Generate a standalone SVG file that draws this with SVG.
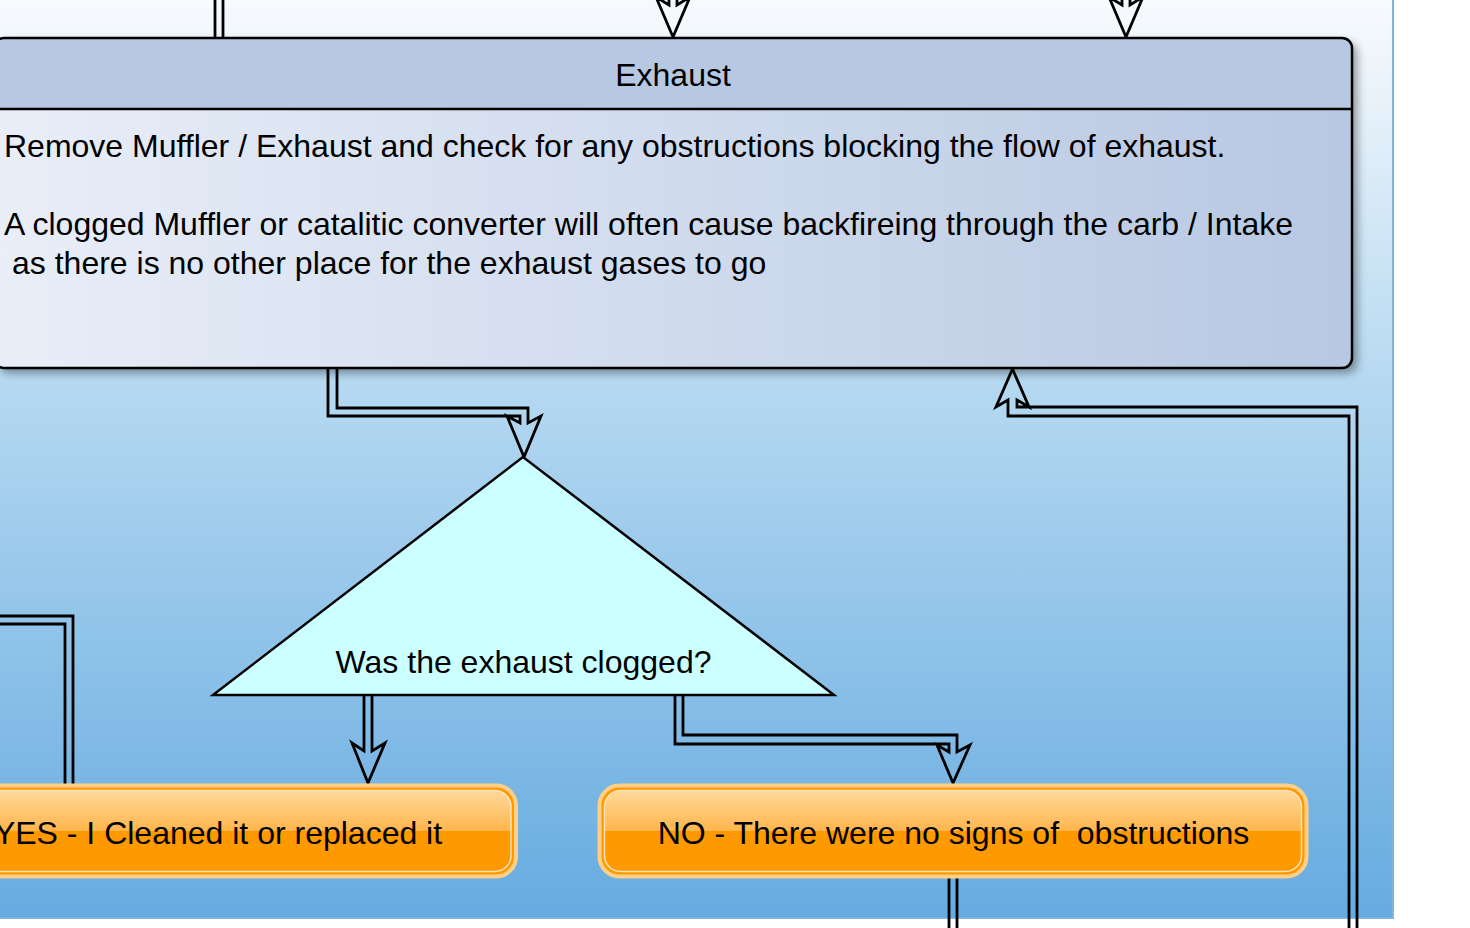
<svg xmlns="http://www.w3.org/2000/svg" width="1470" height="928" viewBox="0 0 1470 928">
<defs>
<linearGradient id="panelGrad" x1="0" y1="0" x2="0" y2="1">
<stop offset="0" stop-color="#f8fbfe"/>
<stop offset="0.08" stop-color="#eef5fb"/>
<stop offset="0.42" stop-color="#b6d9f1"/>
<stop offset="1" stop-color="#66abe0"/>
</linearGradient>
<linearGradient id="bodyGrad" x1="0" y1="0" x2="1" y2="0">
<stop offset="0" stop-color="#e9eef8"/>
<stop offset="1" stop-color="#b7c8e2"/>
</linearGradient>
<linearGradient id="btnGrad" x1="0" y1="0" x2="0" y2="1">
<stop offset="0" stop-color="#ffd99c"/>
<stop offset="0.5" stop-color="#ffb54c"/>
<stop offset="0.5" stop-color="#ff9900"/>
<stop offset="1" stop-color="#ff9900"/>
</linearGradient>
<filter id="shadow" x="-5%" y="-10%" width="110%" height="125%">
<feDropShadow dx="5" dy="5" stdDeviation="5" flood-color="#000" flood-opacity="0.4"/>
</filter>
</defs>
<style>
text { font-family: "Liberation Sans", Arial, sans-serif; font-size: 32px; fill: #000; }
.mid { text-anchor: middle; }
.conn { fill: none; stroke: #000; stroke-width: 2.8; stroke-linejoin: miter; }
.btnOuter { fill: #ff9900; stroke: #ffcf88; stroke-width: 4; }
.btnInner { fill: url(#btnGrad); stroke: #ffe4bc; stroke-width: 1.5; }
</style>
<rect x="-10" y="-10" width="1403" height="928" fill="url(#panelGrad)" stroke="#7db4e0" stroke-width="2"/>

<g id="connectors">
<polyline class="conn" points="215,-5 215,38"/>
<polyline class="conn" points="223,-5 223,38"/>
<polyline class="conn" points="669,-12 669,5 656,-3 673,37 690,-3 677,5 677,-12"/>
<polyline class="conn" points="1122,-12 1122,5 1109,-3 1126,37 1143,-3 1130,5 1130,-12"/>
<polyline class="conn" points="328,368 328,416 520,416 520,423 507,416 524,457 541,416 528,423 528,408 337,408 337,368"/>
<polyline class="conn" points="1357,935 1357,407 1017,407 1017,400 1029,407 1012.5,369 996,407 1008,400 1008,416 1349,416 1349,935"/>
<polyline class="conn" points="364,695 364,751 352,743 368,783 385,743 372,751 372,695"/>
<polyline class="conn" points="675,695 675,744 949,744 949,752 937,745 953,783 970,745 957,752 957,735 683,735 683,695"/>
<polyline class="conn" points="949,877 949,935"/>
<polyline class="conn" points="957,877 957,935"/>
<polyline class="conn" points="65,785 65,624 -5,624"/>
<polyline class="conn" points="73,785 73,616 -5,616"/>
</g>

<g id="exhaust">
<rect x="-6" y="38" width="1358" height="330" rx="10" fill="url(#bodyGrad)" filter="url(#shadow)"/>
<path d="M -6 109 V 48 Q -6 38 4 38 H 1342 Q 1352 38 1352 48 V 109 Z" fill="#b7c8e2"/>
<line x1="-6" y1="109" x2="1352" y2="109" stroke="#000" stroke-width="2.5"/>
<rect x="-6" y="38" width="1358" height="330" rx="10" fill="none" stroke="#000" stroke-width="2.5"/>
<text class="mid" x="673" y="86">Exhaust</text>
<text x="4" y="157">Remove Muffler / Exhaust and check for any obstructions blocking the flow of exhaust.</text>
<text x="4" y="235">A clogged Muffler or catalitic converter will often cause backfireing through the carb / Intake</text>
<text x="12" y="274">as there is no other place for the exhaust gases to go</text>
</g>

<g id="decision">
<polygon points="523,457 213,695 834,695" fill="#ccffff" stroke="#000" stroke-width="2.5" stroke-linejoin="miter"/>
<text class="mid" x="523.5" y="673">Was the exhaust clogged?</text>
</g>

<g id="yes">
<rect class="btnOuter" x="-80" y="785.5" width="596" height="91" rx="20"/>
<rect class="btnInner" x="-75" y="790.5" width="586" height="81" rx="16"/>
<text class="mid" x="218" y="844">YES - I Cleaned it or replaced it</text>
</g>

<g id="no">
<rect class="btnOuter" x="599.5" y="785.5" width="707" height="91" rx="20"/>
<rect class="btnInner" x="604.5" y="790.5" width="697" height="81" rx="16"/>
<text class="mid" x="953.5" y="844" xml:space="preserve">NO - There were no signs of  obstructions</text>
</g>
</svg>
